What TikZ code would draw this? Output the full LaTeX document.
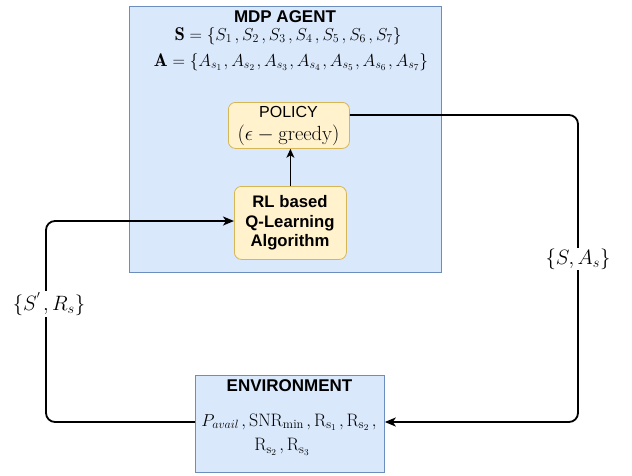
\documentclass[tikz,border=0pt]{standalone}
\usepackage{amsmath}
\usepackage{fontspec}
\newfontfamily\helv{Liberation Sans}
\usetikzlibrary{arrows.meta}
\definecolor{agentfill}{HTML}{DAE8FC}
\definecolor{agentdraw}{HTML}{6C8EBF}
\definecolor{boxfill}{HTML}{FFF2CC}
\definecolor{boxdraw}{HTML}{D6B656}
\newcommand{\cm}{\mkern2.5mu,}
\begin{document}
\begin{tikzpicture}[x=1pt,y=-1pt,
  panel/.style={draw=agentdraw,fill=agentfill,line width=0.8pt,inner sep=0pt,anchor=north west},
  yellowbox/.style={draw=boxdraw,fill=boxfill,rounded corners=7pt,line width=0.8pt,inner sep=0pt,anchor=north west},
  loop/.style={line width=1.8pt,rounded corners=9pt,-{Stealth[length=11pt,width=9pt,inset=3pt]}},
  flowlbl/.style={fill=white,inner sep=1pt,font=\fontsize{22.5}{26}\selectfont},
  title/.style={font=\helv\bfseries\fontsize{17}{19}\selectfont,inner sep=0pt},
  mathtxt/.style={inner sep=0pt,font=\fontsize{18.5}{22}\selectfont}
]
\useasboundingbox (0,0) rectangle (632,475);
% agent panel
\node[panel,minimum width=312pt,minimum height=266pt] (agent) at (129,6) {};
\node[title] (agt) at (285,17) {MDP AGENT};
\node[mathtxt] (sset) at (288,36) {$\mathbf{S}=\{S_1\cm S_2\cm S_3\cm S_4\cm S_5\cm S_6\cm S_7\}$};
\node[mathtxt,font=\fontsize{18.3}{22}\selectfont] (aset) at (291,62) {$\mathbf{A}=\{A_{s_1}\mkern1.5mu,A_{s_2}\mkern1.5mu,A_{s_3}\mkern1.5mu,A_{s_4}\mkern1.5mu,A_{s_5}\mkern1.5mu,A_{s_6}\mkern1.5mu,A_{s_7}\}$};
% policy
\node[yellowbox,minimum width=121pt,minimum height=46pt] (policy) at (228,102) {};
\node[inner sep=0pt,font=\helv\fontsize{16}{18}\selectfont] (poltitle) at (288.5,112) {POLICY};
\node[inner sep=0pt,font=\fontsize{20.5}{24}\selectfont] (polmath) at (288.5,135) {$(\epsilon-\mathrm{greedy})$};
% RL
\node[yellowbox,minimum width=112pt,minimum height=73pt] (rl) at (234,186) {};
\node[align=center,inner sep=0pt,font=\helv\bfseries\fontsize{16.7}{19.5}\selectfont] (rltxt) at (290,223) {RL based\\Q-Learning\\Algorithm};
% environment
\node[panel,minimum width=189pt,minimum height=97pt] (env) at (195,375) {};
\node[title] (envt) at (289.5,386) {ENVIRONMENT};
\node[mathtxt,font=\fontsize{18}{22}\selectfont] (envl1) at (289,422) {$P_{avail}\cm\mathrm{SNR}_{\min}\cm\mathrm{R}_{\mathrm{s}_1}\cm\mathrm{R}_{\mathrm{s}_2}\cm$};
\node[mathtxt,font=\fontsize{18}{22}\selectfont] (envl2) at (282,447) {$\mathrm{R}_{\mathrm{s}_2}\cm\mathrm{R}_{\mathrm{s}_3}$};
% connectors
\draw[line width=1.1pt,-{Stealth[length=9pt,width=8pt,inset=2.5pt]}] (rl.north) -- (policy.south -| rl.north);
\coordinate (tr) at (578,115);
\coordinate (br) at (578,422);
\coordinate (bl) at (46,422);
\coordinate (tl) at (46,221);
\draw[loop] (policy.east |- tr) -- (tr) -- (br) -- (env.east |- br);
\draw[loop] (env.west |- bl) -- (bl) -- (tl) -- (rl.west |- tl);
\node[flowlbl] (sa) at (578,259) {$\{S,A_s\}$};
\node[flowlbl] (sr) at (49,304) {$\{S^{'}\mkern2mu,R_s\}$};
\end{tikzpicture}
\end{document}
